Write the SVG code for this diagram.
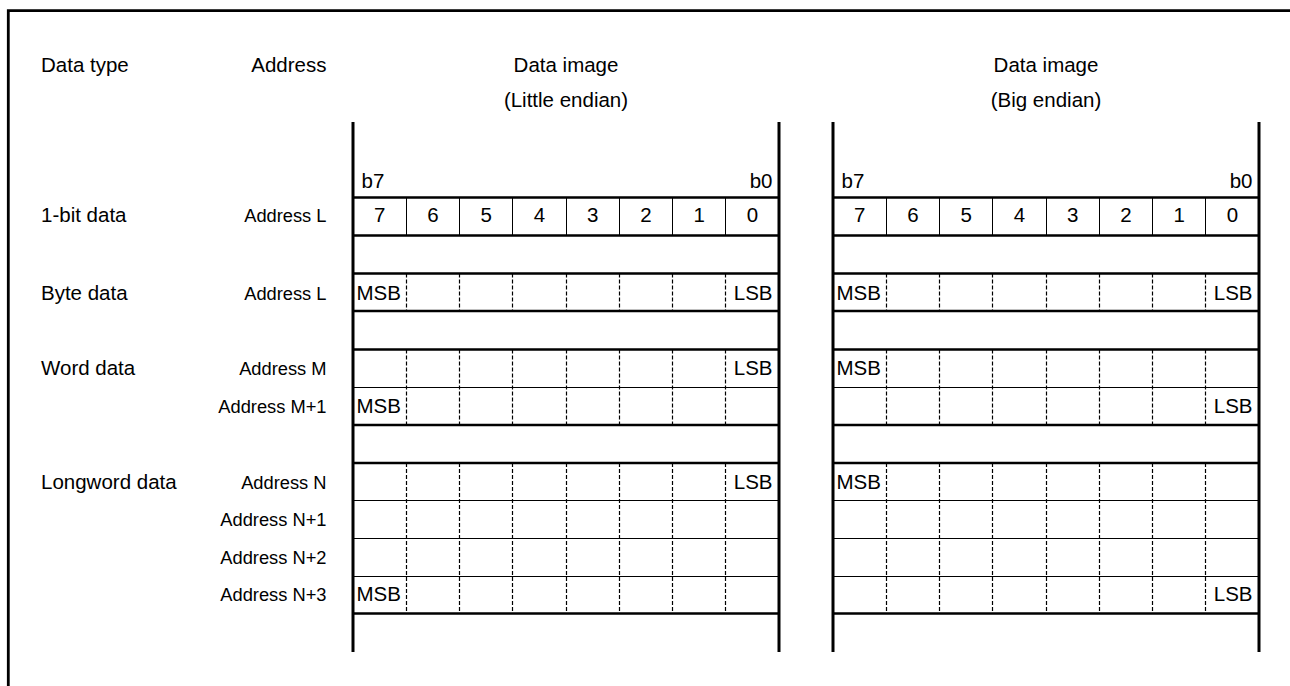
<svg xmlns="http://www.w3.org/2000/svg" xmlns:xlink="http://www.w3.org/1999/xlink" width="1290" height="686" viewBox="0 0 1290 686">
<style>
text{font-family:"Liberation Sans",Arial,sans-serif;fill:#000}
.big{font-size:20.5px}
.sm{font-size:18.3px}
.mid{text-anchor:middle}
.end{text-anchor:end}
.frame{stroke:#000;stroke-width:2.8;fill:none}
.vb{stroke:#000;stroke-width:3;fill:none}
.hb{stroke:#000;stroke-width:2.6;fill:none}
.thin{stroke:#000;stroke-width:1;fill:none}
.dash{stroke:#000;stroke-width:1.2;stroke-dasharray:4 2;fill:none}
</style>
<defs>
<g id="grid">
<path class="vb" d="M353 122V652M779 122V652"/>
<path class="hb" d="M353 197.5H779M353 235.5H779M353 273.5H779M353 311H779M353 349.5H779M353 425H779M353 463H779M353 613.5H779"/>
<path class="thin" d="M353 387.5H779M353 500.5H779M353 538.5H779M353 576.5H779"/>
<path class="thin" d="M406.5 197.5V235.5M459.5 197.5V235.5M512.5 197.5V235.5M566.5 197.5V235.5M619.5 197.5V235.5M672.5 197.5V235.5M725.5 197.5V235.5"/>
<path class="dash" d="M406.5 273.5V311M459.5 273.5V311M512.5 273.5V311M566.5 273.5V311M619.5 273.5V311M672.5 273.5V311M725.5 273.5V311"/>
<path class="dash" d="M406.5 349.5V425M459.5 349.5V425M512.5 349.5V425M566.5 349.5V425M619.5 349.5V425M672.5 349.5V425M725.5 349.5V425"/>
<path class="dash" d="M406.5 463V613.5M459.5 463V613.5M512.5 463V613.5M566.5 463V613.5M619.5 463V613.5M672.5 463V613.5M725.5 463V613.5"/>
<text class="big" x="361.5" y="188">b7</text>
<text class="big end" x="772.5" y="188">b0</text>
<g class="big mid">
<text x="379.6" y="222">7</text><text x="432.9" y="222">6</text><text x="486.1" y="222">5</text><text x="539.4" y="222">4</text>
<text x="592.6" y="222">3</text><text x="645.9" y="222">2</text><text x="699.1" y="222">1</text><text x="752.4" y="222">0</text>
</g>
<text class="big" x="356.5" y="300">MSB</text>
<text class="big end" x="772.5" y="300">LSB</text>
</g>
</defs>
<g id="frame"><path class="frame" d="M8.3 686V10.7H1290"/></g>
<g id="headers">
<text class="big" x="41" y="72">Data type</text>
<text class="big end" x="326.5" y="72">Address</text>
<text class="big mid" x="566" y="72">Data image</text>
<text class="big mid" x="566" y="107">(Little endian)</text>
<text class="big mid" x="1046" y="72">Data image</text>
<text class="big mid" x="1046" y="107">(Big endian)</text>
</g>
<g id="row-labels">
<text class="big" x="41" y="222">1-bit data</text>
<text class="big" x="41" y="300">Byte data</text>
<text class="big" x="41" y="375">Word data</text>
<text class="big" x="41" y="488.5">Longword data</text>
<g class="sm end">
<text x="326.5" y="222">Address L</text>
<text x="326.5" y="300">Address L</text>
<text x="326.5" y="375">Address M</text>
<text x="326.5" y="412.5">Address M+1</text>
<text x="326.5" y="488.5">Address N</text>
<text x="326.5" y="526">Address N+1</text>
<text x="326.5" y="563.5">Address N+2</text>
<text x="326.5" y="601">Address N+3</text>
</g>
</g>
<g id="little-endian">
<use xlink:href="#grid" href="#grid"/>
<text class="big end" x="772.5" y="375">LSB</text>
<text class="big" x="356.5" y="412.5">MSB</text>
<text class="big end" x="772.5" y="488.5">LSB</text>
<text class="big" x="356.5" y="601">MSB</text>
</g>
<g id="big-endian">
<use xlink:href="#grid" href="#grid" x="480"/>
<text class="big" x="836.5" y="375">MSB</text>
<text class="big end" x="1252.5" y="412.5">LSB</text>
<text class="big" x="836.5" y="488.5">MSB</text>
<text class="big end" x="1252.5" y="601">LSB</text>
</g>
</svg>
